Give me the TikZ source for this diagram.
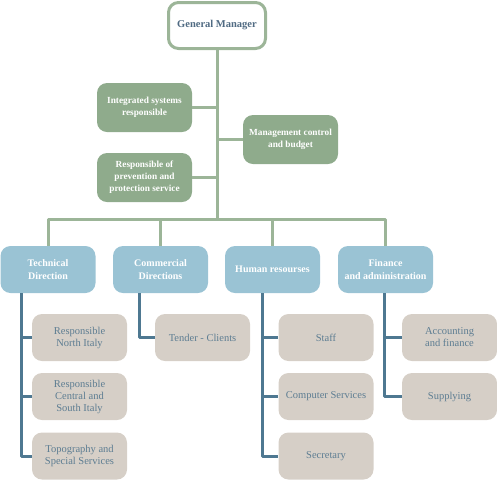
\documentclass[tikz,border=0pt]{standalone}
\usepackage{fontspec}
\setmainfont{Liberation Serif}
\usepackage{tikz}
\usetikzlibrary{arrows}

\definecolor{gruenfill}{HTML}{8FAB8C}
\definecolor{gruenlinie}{HTML}{9CB598}
\definecolor{blaufill}{HTML}{9AC3D4}
\definecolor{blaulinie}{HTML}{4E7891}
\definecolor{graufill}{HTML}{D6CFC7}
\definecolor{grautext}{HTML}{5D7D92}
\definecolor{chefttext}{HTML}{4F6A82}

\tikzset{
	chef/.style={draw=gruenlinie, line width=3pt, fill=white, rounded corners=10pt, minimum width=97pt, minimum height=46pt, text=chefttext, font=\fontsize{10.5}{12}\selectfont\bfseries, align=center},
	stab/.style={fill=gruenfill, rounded corners=10pt, minimum width=95pt, minimum height=49pt, text=white, font=\fontsize{9.3}{12}\selectfont\bfseries, align=center, inner sep=1pt},
	abteilung/.style={fill=blaufill, rounded corners=10pt, minimum width=95pt, minimum height=47pt, text=white, font=\fontsize{10}{12.5}\selectfont\bfseries, align=center, inner sep=1pt},
	bereich/.style={fill=graufill, rounded corners=10pt, minimum width=95pt, minimum height=47pt, text=grautext, font=\fontsize{10.5}{12}\selectfont, align=center, inner sep=1pt},
	gruenverb/.style={draw=gruenlinie, line width=3pt},
	blauverb/.style={draw=blaulinie, line width=3pt}
}

\begin{document}
\begin{tikzpicture}[line join=round,x=1pt,y=-1pt]
		\useasboundingbox (0,0) rectangle (497,491);

		% Geschaeftsfuehrung und Stab
		\node[chef] (gm) at (217,25.5) {General Manager};
		\node[stab] (integ) at (144.5,107.5) {Integrated systems\\responsible};
		\node[stab] (contr) at (290.5,139.5) {Management control\\and budget};
		\node[stab] (prev) at (144.5,177.5) {Responsible of\\prevention and\\protection service};

		% Abteilungen
		\node[abteilung] (tech) at (48,269.5) {Technical\\Direction};
		\node[abteilung] (comm) at (160.5,269.5) {Commercial\\Directions};
		\node[abteilung] (hr) at (272.5,269.5) {Human resourses};
		\node[abteilung] (fin) at (385.5,269.5) {Finance\\and administration};

		% Bereiche
		\node[bereich] (nord) at (79.5,337.5) {Responsible\\North Italy};
		\node[bereich] (zentral) at (79.5,396.5) {Responsible\\Central and\\South Italy};
		\node[bereich] (topo) at (79.5,456) {Topography and\\Special Services};
		\node[bereich] (tender) at (202.5,337.5) {Tender - Clients};
		\node[bereich] (staff) at (326,337.5) {Staff};
		\node[bereich] (comp) at (326,396.5) {Computer Services};
		\node[bereich] (secr) at (326,456) {Secretary};
		\node[bereich] (acc) at (449.5,337.5) {Accounting\\and finance};
		\node[bereich] (supp) at (449.5,396.5) {Supplying};

		% gruene Verbindungen
		\coordinate (bus) at (217,219);
		\draw[gruenverb] (gm.south) -- (bus);
		\draw[gruenverb] (integ.east) -- (integ.east -| gm.south);
		\draw[gruenverb] (contr.west) -- (contr.west -| gm.south);
		\draw[gruenverb] (prev.east) -- (prev.east -| gm.south);
		\draw[gruenverb] (bus) -| (tech.north);
		\draw[gruenverb] (bus) -| (comm.north);
		\draw[gruenverb] (bus) -| (hr.north);
		\draw[gruenverb] (bus) -| (fin.north);

		% blaue Verbindungen
		\coordinate (tv) at (21,0);
		\coordinate (cv) at (139,0);
		\coordinate (hv) at (262,0);
		\coordinate (fv) at (384,0);
		\draw[blauverb] (tv |- tech.south) |- (nord.west);
		\draw[blauverb] (tv |- tech.south) |- (zentral.west);
		\draw[blauverb] (tv |- tech.south) |- (topo.west);
		\draw[blauverb] (cv |- comm.south) |- (tender.west);
		\draw[blauverb] (hv |- hr.south) |- (staff.west);
		\draw[blauverb] (hv |- hr.south) |- (comp.west);
		\draw[blauverb] (hv |- hr.south) |- (secr.west);
		\draw[blauverb] (fv |- fin.south) |- (acc.west);
		\draw[blauverb] (fv |- fin.south) |- (supp.west);
	\end{tikzpicture}
\end{document}
